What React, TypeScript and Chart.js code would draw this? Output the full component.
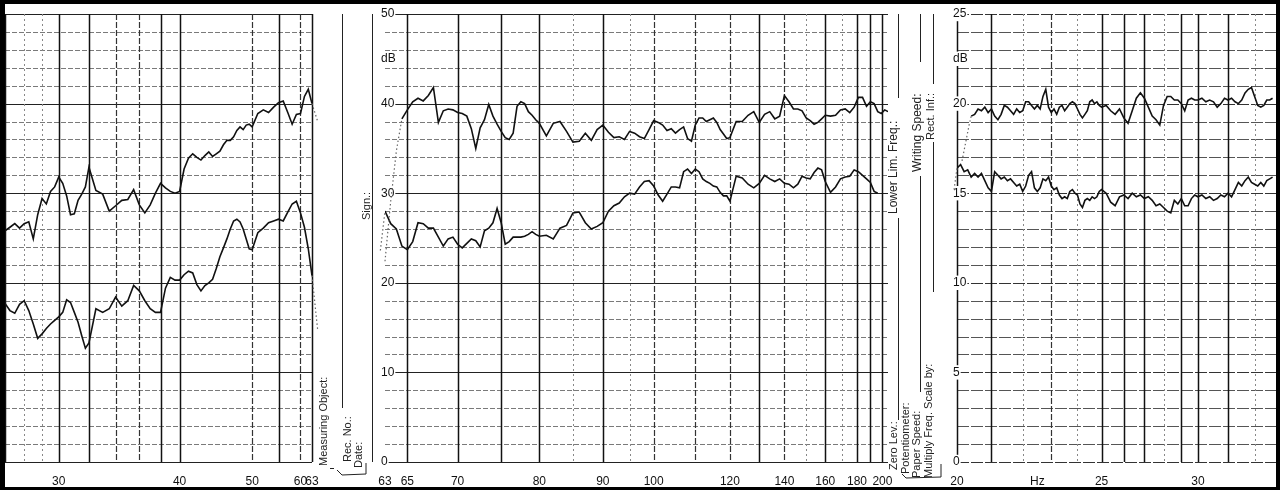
import React, { useEffect, useRef } from "react";
import { Chart, registerables } from "chart.js";

Chart.register(...registerables);

// ---------------- data (frequency in Hz, level in dB) ----------------
const leftFreqHz = [
  27, 27.25, 27.5, 27.75, 28, 28.25, 28.5, 28.75, 29, 29.25, 29.5, 29.75, 30, 30.25, 30.5, 30.75, 31, 31.25, 31.5, 31.75, 32,
  32.5, 33, 33.5, 34, 34.5, 35, 35.5, 36, 36.5, 37, 37.5, 38, 38.5, 39, 39.5, 40,
  40.5, 41, 41.5, 42, 42.5, 43, 43.5, 44, 44.5, 45, 45.5, 46, 46.5, 47, 47.5, 48, 48.5, 49, 49.5, 50,
  51, 52, 53, 54, 55, 56, 57, 58, 59, 60, 61, 62, 63,
];
const leftUpperDb = [
  25.8, 26.2, 26.6, 26.1, 26.6, 26.8, 24.9, 27.6, 29.4, 28.8, 30.2, 30.7, 31.8, 31.1, 29.7, 27.6, 27.7, 29.2, 29.9, 30.7, 32.9,
  30.3, 29.9, 28.0, 28.6, 29.2, 29.3, 30.4, 28.7, 27.8, 28.7, 30.0, 31.1, 30.6, 30.2, 30.0, 30.2,
  32.7, 33.9, 34.4, 34.0, 33.7, 34.2, 34.6, 34.1, 34.4, 34.7, 35.4, 35.9, 35.9, 36.3, 37.0, 37.4, 37.1, 37.6, 37.7, 37.4,
  38.9, 39.3, 39.0, 39.6, 40.1, 40.3, 39.0, 37.7, 38.8, 38.9, 40.8, 41.6, 40.0,
];
const leftLowerDb = [
  17.7, 16.9, 16.6, 17.6, 18.0, 16.9, 15.4, 13.8, 14.3, 14.9, 15.4, 15.8, 16.2, 16.7, 18.1, 17.8, 16.7, 15.6, 14.1, 12.7, 13.3,
  17.1, 16.7, 17.1, 18.4, 17.4, 18.0, 19.7, 19.1, 18.0, 17.1, 16.7, 16.7, 19.4, 20.6, 20.3, 20.3,
  20.9, 21.3, 21.1, 19.8, 19.1, 19.7, 20.0, 20.4, 21.6, 22.9, 23.9, 24.9, 26.0, 26.9, 27.1, 26.8, 26.0, 24.9, 23.8, 23.7,
  25.6, 26.1, 26.7, 26.9, 27.1, 26.9, 27.9, 28.8, 29.1, 27.8, 26.2, 23.8, 20.8,
];

const midFreqHz = [
  63, 63.5, 64, 64.5, 65, 65.5, 66, 66.5, 67, 67.5, 68, 68.5, 69, 69.5, 70, 70.5, 71, 71.5, 72, 72.5,
  73, 73.5, 74, 74.5, 75, 75.5, 76, 76.5, 77, 77.5, 78, 78.5, 79, 79.5, 80,
  81, 82, 83, 84, 85, 86, 87, 88, 89, 90, 91, 92, 93, 94, 95, 96, 97, 98, 99, 100,
  101, 102, 103, 104, 105, 106, 107, 108, 109, 110, 111, 112, 113, 114, 115, 116, 117, 118, 119, 120,
  122, 124, 126, 128, 130, 132, 134, 136, 138, 140, 142, 144, 146, 148, 150, 152, 154, 156, 158, 160,
  163, 166, 169, 172, 175, 178, 181, 184, 187, 190, 193, 196, 199, 202, 205,
];
const midUpperDb = [
  null, null, null, 38.3, 39.3, 40.2, 40.6, 40.3, 40.9, 41.8, 37.9, 39.2, 39.4, 39.3, 39.0, 38.9, 38.6, 37.2, 35.0, 37.3,
  38.2, 39.9, 38.6, 37.7, 36.9, 36.2, 36.0, 36.7, 39.7, 40.2, 40.0, 39.1, 38.7, 38.2, 37.8,
  36.4, 37.8, 38.0, 36.9, 35.7, 35.8, 36.7, 35.9, 37.1, 37.6, 36.8, 36.2, 36.3, 36.0, 36.9, 36.7, 36.3, 36.1, 37.1, 38.1,
  37.9, 37.6, 37.0, 37.2, 36.7, 37.1, 37.4, 36.1, 35.8, 37.6, 38.4, 38.4, 38.0, 38.2, 38.4, 37.9, 37.1, 36.6, 36.1, 36.2,
  38.0, 38.0, 38.7, 39.1, 37.9, 38.8, 39.1, 38.3, 38.6, 40.9, 40.2, 39.4, 39.4, 39.2, 38.4, 38.1, 37.7, 37.9, 38.3, 38.7,
  38.6, 38.7, 39.3, 39.4, 39.0, 39.6, 40.7, 40.7, 39.7, 40.2, 40.0, 39.1, 38.9, 39.3, 39.1,
];
const midLowerDb = [
  28.0, 26.6, 26.0, 24.1, 23.7, 24.6, 26.7, 26.6, 26.1, 26.1, 25.1, 24.1, 24.9, 25.1, 24.3, 23.9, 24.4, 24.9, 24.7, 24.0,
  25.8, 26.1, 26.7, 28.3, 26.7, 24.3, 24.6, 25.1, 25.1, 25.1, 25.2, 25.4, 25.7, 25.4, 25.2,
  25.3, 24.9, 26.1, 26.4, 27.8, 27.9, 26.7, 26.0, 26.3, 26.7, 28.0, 28.6, 28.9, 29.6, 30.0, 29.9, 30.7, 31.3, 31.4, 30.8,
  29.8, 29.1, 29.9, 30.7, 30.7, 30.6, 32.4, 32.7, 32.2, 32.7, 32.4, 31.6, 31.3, 31.1, 30.8, 30.7, 30.1, 29.7, 29.7, 29.1,
  31.9, 31.7, 31.0, 30.6, 31.1, 32.0, 31.6, 31.3, 31.6, 31.1, 31.0, 30.6, 31.0, 31.9, 31.7, 31.6, 32.3, 32.8, 32.6, 31.3,
  30.1, 30.7, 31.6, 31.8, 31.9, 32.6, 32.4, 32.0, 31.6, 31.2, 30.2, 30.0, null, null, null,
];

const rightFreqHz = [
  20.0, 20.1, 20.2, 20.3, 20.4, 20.5, 20.6, 20.7, 20.8, 20.9, 21.0, 21.1, 21.2, 21.3, 21.4, 21.5, 21.6, 21.7, 21.8, 21.9,
  22.0, 22.1, 22.2, 22.3, 22.4, 22.5, 22.6, 22.7, 22.8, 22.9, 23.0, 23.1, 23.2, 23.3, 23.4, 23.5, 23.6, 23.7, 23.8, 23.9,
  24.0, 24.1, 24.2, 24.3, 24.4, 24.5, 24.6, 24.7, 24.8, 24.9, 25.0,
  25.2, 25.4, 25.6, 25.8, 26.0, 26.2, 26.4, 26.6, 26.8, 27.0, 27.2, 27.4, 27.6, 27.8, 28.0, 28.2, 28.4, 28.6, 28.8, 29.0,
  29.2, 29.4, 29.6, 29.8, 30.0,
  30.25, 30.5, 30.75, 31.0, 31.25, 31.5, 31.75, 32.0, 32.25, 32.5, 32.75, 33.0, 33.25, 33.5, 33.75, 34.0, 34.25, 34.5,
  34.75, 35.0, 35.25, 35.5,
];
const rightUpperDb = [
  null, null, null, null, 19.3, 19.4, 19.7, 19.6, 19.8, 19.5, 19.7, 19.3, 19.1, 19.4, 19.9, 19.8, 19.6, 19.4, 19.7, 19.5,
  19.6, 20.1, 20.1, 19.9, 19.7, 19.9, 19.7, 20.4, 20.8, 19.8, 19.5, 19.7, 19.4, 19.8, 19.9, 19.6, 19.8, 20.0, 20.1, 20.0,
  19.7, 19.4, 19.2, 19.4, 19.6, 20.1, 20.2, 20.0, 20.1, 19.9, 19.8,
  19.9, 19.6, 19.4, 19.7, 19.2, 18.9, 19.6, 20.3, 20.6, 20.3, 19.8, 19.3, 19.1, 18.8, 19.9, 20.4, 20.4, 20.2, 20.2, 20.0,
  19.6, 20.2, 20.3, 20.2, 20.2,
  20.3, 20.1, 20.2, 20.1, 19.8, 20.0, 20.3, 20.2, 20.3, 20.1, 20.0, 20.2, 20.6, 20.8, 20.9, 20.4, 19.9, 19.8,
  19.9, 20.2, 20.2, 20.3,
];
const rightLowerDb = [
  16.4, 16.6, 16.2, 16.3, 15.9, 16.1, 15.9, 16.1, 15.7, 15.3, 15.1, 16.2, 16.0, 15.8, 15.9, 15.7, 15.8, 15.6, 15.4, 15.5,
  15.1, 15.4, 16.0, 16.2, 15.3, 15.1, 15.3, 15.8, 15.7, 15.9, 15.4, 15.2, 15.3, 14.9, 14.7, 14.8, 14.7, 15.1, 15.2, 15.0,
  14.9, 14.4, 14.2, 14.6, 14.7, 14.6, 14.8, 14.7, 14.8, 15.1, 15.2,
  15.0, 14.5, 14.3, 14.8, 14.9, 14.7, 15.0, 14.8, 14.9, 14.7, 14.8, 14.6, 14.3, 14.4, 14.2, 14.0, 13.9, 14.6, 14.4, 14.7,
  14.3, 14.3, 14.7, 14.9, 14.8,
  14.9, 14.7, 14.8, 14.6, 14.7, 14.9, 14.8, 15.0, 14.8, 15.2, 15.6, 15.4, 15.7, 15.9, 15.6, 15.5, 15.4, 15.6,
  15.4, 15.7, 15.8, 15.9,
];

// pen travel (faint dotted) at the start / end of each sweep
const leftDropUpperHz = [63, 64.6, 66.4, 68.3, 70.6, 72.7];
const leftDropUpperDb = [40.0, 38.0, 33.6, 23.6, 10.2, 0.2];
const leftDropLowerHz = [63, 64.6, 65.8, 67.0, 68.3];
const leftDropLowerDb = [20.8, 14.7, 11.3, 9.1, 4.7];
const midRiseUpperHz = [63, 63.5, 64, 64.5];
const midRiseUpperDb = [22.4, 29.1, 34.7, 38.3];
const midRiseLowerHz = [61.9, 62.3, 62.6, 63];
const midRiseLowerDb = [2.4, 14.7, 23.6, 28.0];
const rightRiseLowerHz = [19.81, 19.92, 20.0];
const rightRiseLowerDb = [13.8, 15.2, 16.4];
const rightRiseUpperHz = [20.14, 20.25, 20.34, 20.4];
const rightRiseUpperDb = [16.8, 17.9, 18.8, 19.3];

// tick labels
const leftTickHz = [30, 40, 50, 60, 63];
const midTickHz = [63, 65, 70, 80, 90, 100, 120, 140, 160, 180, 200];
const rightTickHz = [20, 25, 30];
const midDbTicks = [0, 10, 20, 30, 40, 45, 50];
const rightDbTicks = [0, 5, 10, 15, 20, 22.5, 25];

// printed frequency grid of the recorder paper
const leftGridSolidHz = [27, 30, 32, 38, 40, 55, 63];
const leftGridDashedHz = [34, 36, 50, 60];
const leftGridDottedHz = [28, 29];
const midGridSolidHz = [65, 70, 75, 80, 90, 130, 160, 180, 190, 200];
const midGridDashedHz = [100, 110, 120, 140];
const midGridDottedHz = [85, 95, 150, 170];
const rightGridSolidHz = [20, 21, 25, 26, 27, 29, 30, 32];
const rightGridDashedHz = [23];
const rightGridDottedHz = [22, 24, 28, 34];

// ---------------- styling ----------------
const FONT = '"Liberation Sans", Arial, Helvetica, sans-serif';
type LineStyle = { color: string; width: number; dash: number[] };
const H_MAJOR: LineStyle = { color: "#222", width: 1.2, dash: [] };
const H_MINOR: LineStyle = { color: "#7a7a7a", width: 1, dash: [5, 2] };
const H_R_MAJOR: LineStyle = { color: "#333", width: 1.1, dash: [12, 2] };
const H_R_MINOR: LineStyle = { color: "#555", width: 1, dash: [12, 2] };
const V_SOLID: LineStyle = { color: "#111", width: 1.5, dash: [] };
const V_DASHED: LineStyle = { color: "#333", width: 1.2, dash: [6, 2] };
const V_DOTTED: LineStyle = { color: "#888", width: 1, dash: [2, 3] };

// paper abscissa is linear in period (1/f)
const toX = (hz: number) => -1000 / hz;
const pts = (hz: number[], db: (number | null)[]) => hz.map((h, i) => ({ x: toX(h), y: db[i] }));

interface PanelSpec {
  canvasLeft: number;
  canvasWidth: number;
  padL: number;
  padR: number;
  fMin: number;
  fMax: number;
  dbMax: number;
  hStep: number;
  hMajor: number;
  hMajorStyle: LineStyle;
  hMinorStyle: LineStyle;
  xTicks: number[];
  yTicks: number[];
  unitAt: number | null;
  vSolid: number[];
  vDashed: number[];
  vDotted: number[];
  traces: { hz: number[]; db: (number | null)[] }[];
  pen: { hz: number[]; db: number[] }[];
}

const LEFT: PanelSpec = {
  canvasLeft: 0, canvasWidth: 352, padL: 5, padR: 40, fMin: 27, fMax: 63, dbMax: 50,
  hStep: 2, hMajor: 10, hMajorStyle: H_MAJOR, hMinorStyle: H_MINOR,
  xTicks: leftTickHz, yTicks: [], unitAt: null,
  vSolid: leftGridSolidHz, vDashed: leftGridDashedHz, vDotted: leftGridDottedHz,
  traces: [{ hz: leftFreqHz, db: leftUpperDb }, { hz: leftFreqHz, db: leftLowerDb }],
  pen: [{ hz: leftDropUpperHz, db: leftDropUpperDb }, { hz: leftDropLowerHz, db: leftDropLowerDb }],
};
const MIDDLE: PanelSpec = {
  canvasLeft: 365, canvasWidth: 543, padL: 20, padR: 20, fMin: 63, fMax: 205, dbMax: 50,
  hStep: 2, hMajor: 10, hMajorStyle: H_MAJOR, hMinorStyle: H_MINOR,
  xTicks: midTickHz, yTicks: midDbTicks, unitAt: 45,
  vSolid: midGridSolidHz, vDashed: midGridDashedHz, vDotted: midGridDottedHz,
  traces: [{ hz: midFreqHz, db: midUpperDb }, { hz: midFreqHz, db: midLowerDb }],
  pen: [{ hz: midRiseUpperHz, db: midRiseUpperDb }, { hz: midRiseLowerHz, db: midRiseLowerDb }],
};
const RIGHT: PanelSpec = {
  canvasLeft: 937, canvasWidth: 343, padL: 20, padR: 4, fMin: 20, fMax: 35.8, dbMax: 25,
  hStep: 1, hMajor: 5, hMajorStyle: H_R_MAJOR, hMinorStyle: H_R_MINOR,
  xTicks: rightTickHz, yTicks: rightDbTicks, unitAt: 22.5,
  vSolid: rightGridSolidHz, vDashed: rightGridDashedHz, vDotted: rightGridDottedHz,
  traces: [{ hz: rightFreqHz, db: rightUpperDb }, { hz: rightFreqHz, db: rightLowerDb }],
  pen: [{ hz: rightRiseLowerHz, db: rightRiseLowerDb }, { hz: rightRiseUpperHz, db: rightRiseUpperDb }],
};

function gridPlugin(spec: PanelSpec) {
  return {
    id: "paperGrid",
    beforeDraw(chart: any) {
      const { ctx, chartArea: a } = chart;
      const xs = chart.scales.x;
      const ys = chart.scales.y;
      const stroke = (x1: number, y1: number, x2: number, y2: number, st: LineStyle) => {
        ctx.beginPath();
        ctx.strokeStyle = st.color;
        ctx.lineWidth = st.width;
        ctx.setLineDash(st.dash);
        ctx.moveTo(x1, y1);
        ctx.lineTo(x2, y2);
        ctx.stroke();
      };
      ctx.save();
      const n = Math.round(spec.dbMax / spec.hStep);
      for (let i = 0; i <= n; i++) {
        const v = i * spec.hStep;
        const y = Math.round(ys.getPixelForValue(v)) + 0.5;
        const major = Math.abs(v / spec.hMajor - Math.round(v / spec.hMajor)) < 1e-6;
        stroke(a.left, y, a.right, y, major ? spec.hMajorStyle : spec.hMinorStyle);
      }
      const vline = (hz: number, st: LineStyle) => {
        const x = Math.round(xs.getPixelForValue(toX(hz))) + 0.5;
        stroke(x, a.top, x, a.bottom, st);
      };
      spec.vDotted.forEach((h) => vline(h, V_DOTTED));
      spec.vDashed.forEach((h) => vline(h, V_DASHED));
      spec.vSolid.forEach((h) => vline(h, V_SOLID));
      ctx.restore();
    },
  };
}

function buildConfig(spec: PanelSpec): any {
  const datasets: any[] = [];
  spec.pen.forEach((p) =>
    datasets.push({
      data: pts(p.hz, p.db),
      borderColor: "#666",
      borderWidth: 1.2,
      borderDash: [1.5, 2.5],
      pointRadius: 0,
      tension: 0,
      clip: false,
    })
  );
  spec.traces.forEach((t) =>
    datasets.push({
      data: pts(t.hz, t.db),
      borderColor: "#111",
      borderWidth: 1.6,
      pointRadius: 0,
      tension: 0,
      spanGaps: false,
    })
  );
  return {
    type: "line",
    data: { datasets },
    options: {
      animation: false,
      responsive: false,
      maintainAspectRatio: false,
      events: [],
      layout: { padding: { left: spec.padL, right: spec.padR, top: 14, bottom: 0 } },
      plugins: { legend: { display: false }, tooltip: { enabled: false } },
      scales: {
        x: {
          type: "linear",
          min: toX(spec.fMin),
          max: toX(spec.fMax),
          grid: { display: false, drawTicks: false },
          border: { display: false },
          afterBuildTicks: (s: any) => {
            s.ticks = spec.xTicks.map((f) => ({ value: toX(f) }));
          },
          afterFit: (s: any) => {
            s.height = 28;
            s.paddingLeft = 0;
            s.paddingRight = 0;
          },
          ticks: {
            autoSkip: false,
            maxRotation: 0,
            padding: 12,
            color: "#111",
            font: { family: FONT, size: 12 },
            callback: (v: any) => String(Math.round(-1000 / Number(v))),
          },
        },
        y: {
          type: "linear",
          position: "left",
          min: 0,
          max: spec.dbMax,
          grid: { display: false, drawTicks: false },
          border: { display: false },
          afterBuildTicks: (s: any) => {
            s.ticks = spec.yTicks.map((v) => ({ value: v }));
          },
          afterFit: (s: any) => {
            s.width = 0;
            s.paddingTop = 0;
            s.paddingBottom = 0;
          },
          ticks: {
            display: spec.yTicks.length > 0,
            mirror: true,
            padding: -4,
            autoSkip: false,
            color: "#111",
            font: { family: FONT, size: 12 },
            showLabelBackdrop: true,
            backdropColor: "#ffffff",
            backdropPadding: { left: 1, right: 1, top: 0, bottom: 0 },
            callback: (v: any) => (spec.unitAt !== null && Number(v) === spec.unitAt ? "dB" : String(v)),
          },
        },
      },
    },
    plugins: [gridPlugin(spec)],
  };
}

function PaperPanel({ spec }: { spec: PanelSpec }) {
  const ref = useRef<HTMLCanvasElement | null>(null);
  useEffect(() => {
    if (!ref.current) return;
    const chart = new Chart(ref.current, buildConfig(spec));
    return () => chart.destroy();
  }, [spec]);
  return (
    <canvas
      ref={ref}
      width={spec.canvasWidth}
      height={490}
      style={{ position: "absolute", left: spec.canvasLeft, top: 0, width: spec.canvasWidth, height: 490 }}
    />
  );
}

const verticalTexts = [
  { t: "Measuring Object:", x: 323, yb: 466, s: 11 },
  { t: "Rec. No.:", x: 347, yb: 462, s: 11 },
  { t: "Date:", x: 358, yb: 468, s: 11 },
  { t: "Sign.:", x: 366, yb: 220, s: 11 },
  { t: "Lower Lim. Freq.:", x: 893, yb: 214, s: 12 },
  { t: "Writing Speed:", x: 917, yb: 172, s: 12 },
  { t: "Rect. Inf.:", x: 930, yb: 140, s: 11 },
  { t: "Zero Lev.:", x: 893, yb: 470, s: 11 },
  { t: "Potentiometer:", x: 905, yb: 474, s: 11 },
  { t: "Paper Speed:", x: 916, yb: 478, s: 11 },
  { t: "Multiply Freq. Scale by:", x: 928, yb: 478, s: 11 },
];

export default function App() {
  return (
    <div
      style={{
        position: "fixed",
        left: 0,
        top: 0,
        width: 1280,
        height: 490,
        background: "#fff",
        overflow: "hidden",
        fontFamily: FONT,
      }}
    >
      <PaperPanel spec={LEFT} />
      <PaperPanel spec={MIDDLE} />
      <PaperPanel spec={RIGHT} />

      <svg width={1280} height={490} style={{ position: "absolute", left: 0, top: 0, pointerEvents: "none" }}>
        <g stroke="#222" strokeWidth={1} fill="none">
          <line x1={342.5} y1={14} x2={342.5} y2={408} />
          <line x1={372.5} y1={14} x2={372.5} y2={462} />
          <line x1={330} y1={468.5} x2={334} y2={468.5} />
          <polyline points="337,470 342,475 366,474 366,463" />
          <line x1={898.5} y1={14} x2={898.5} y2={98} />
          <line x1={898.5} y1={218} x2={898.5} y2={420} />
          <line x1={920.5} y1={14} x2={920.5} y2={62} />
          <line x1={920.5} y1={176} x2={920.5} y2={392} />
          <line x1={933.5} y1={14} x2={933.5} y2={84} />
          <line x1={933.5} y1={142} x2={933.5} y2={292} />
          <polyline points="902,474 906,478 941,477 941,464" />
        </g>
      </svg>

      {verticalTexts.map((v) => (
        <span
          key={v.t}
          style={{
            position: "absolute",
            left: v.x - v.s / 2,
            top: v.yb,
            fontSize: v.s,
            lineHeight: `${v.s}px`,
            whiteSpace: "nowrap",
            color: "#222",
            transform: "rotate(-90deg)",
            transformOrigin: "0 0",
          }}
        >
          {v.t}
        </span>
      ))}

      <span style={{ position: "absolute", left: 1030, top: 474, fontSize: 12, lineHeight: "14px", color: "#111" }}>
        Hz
      </span>

      <div
        style={{
          position: "absolute",
          left: 0,
          top: 0,
          width: 1280,
          height: 490,
          boxSizing: "border-box",
          borderTop: "4px solid #000",
          borderLeft: "5px solid #000",
          borderRight: "4px solid #000",
          borderBottom: "3px solid #000",
          pointerEvents: "none",
        }}
      />
    </div>
  );
}
